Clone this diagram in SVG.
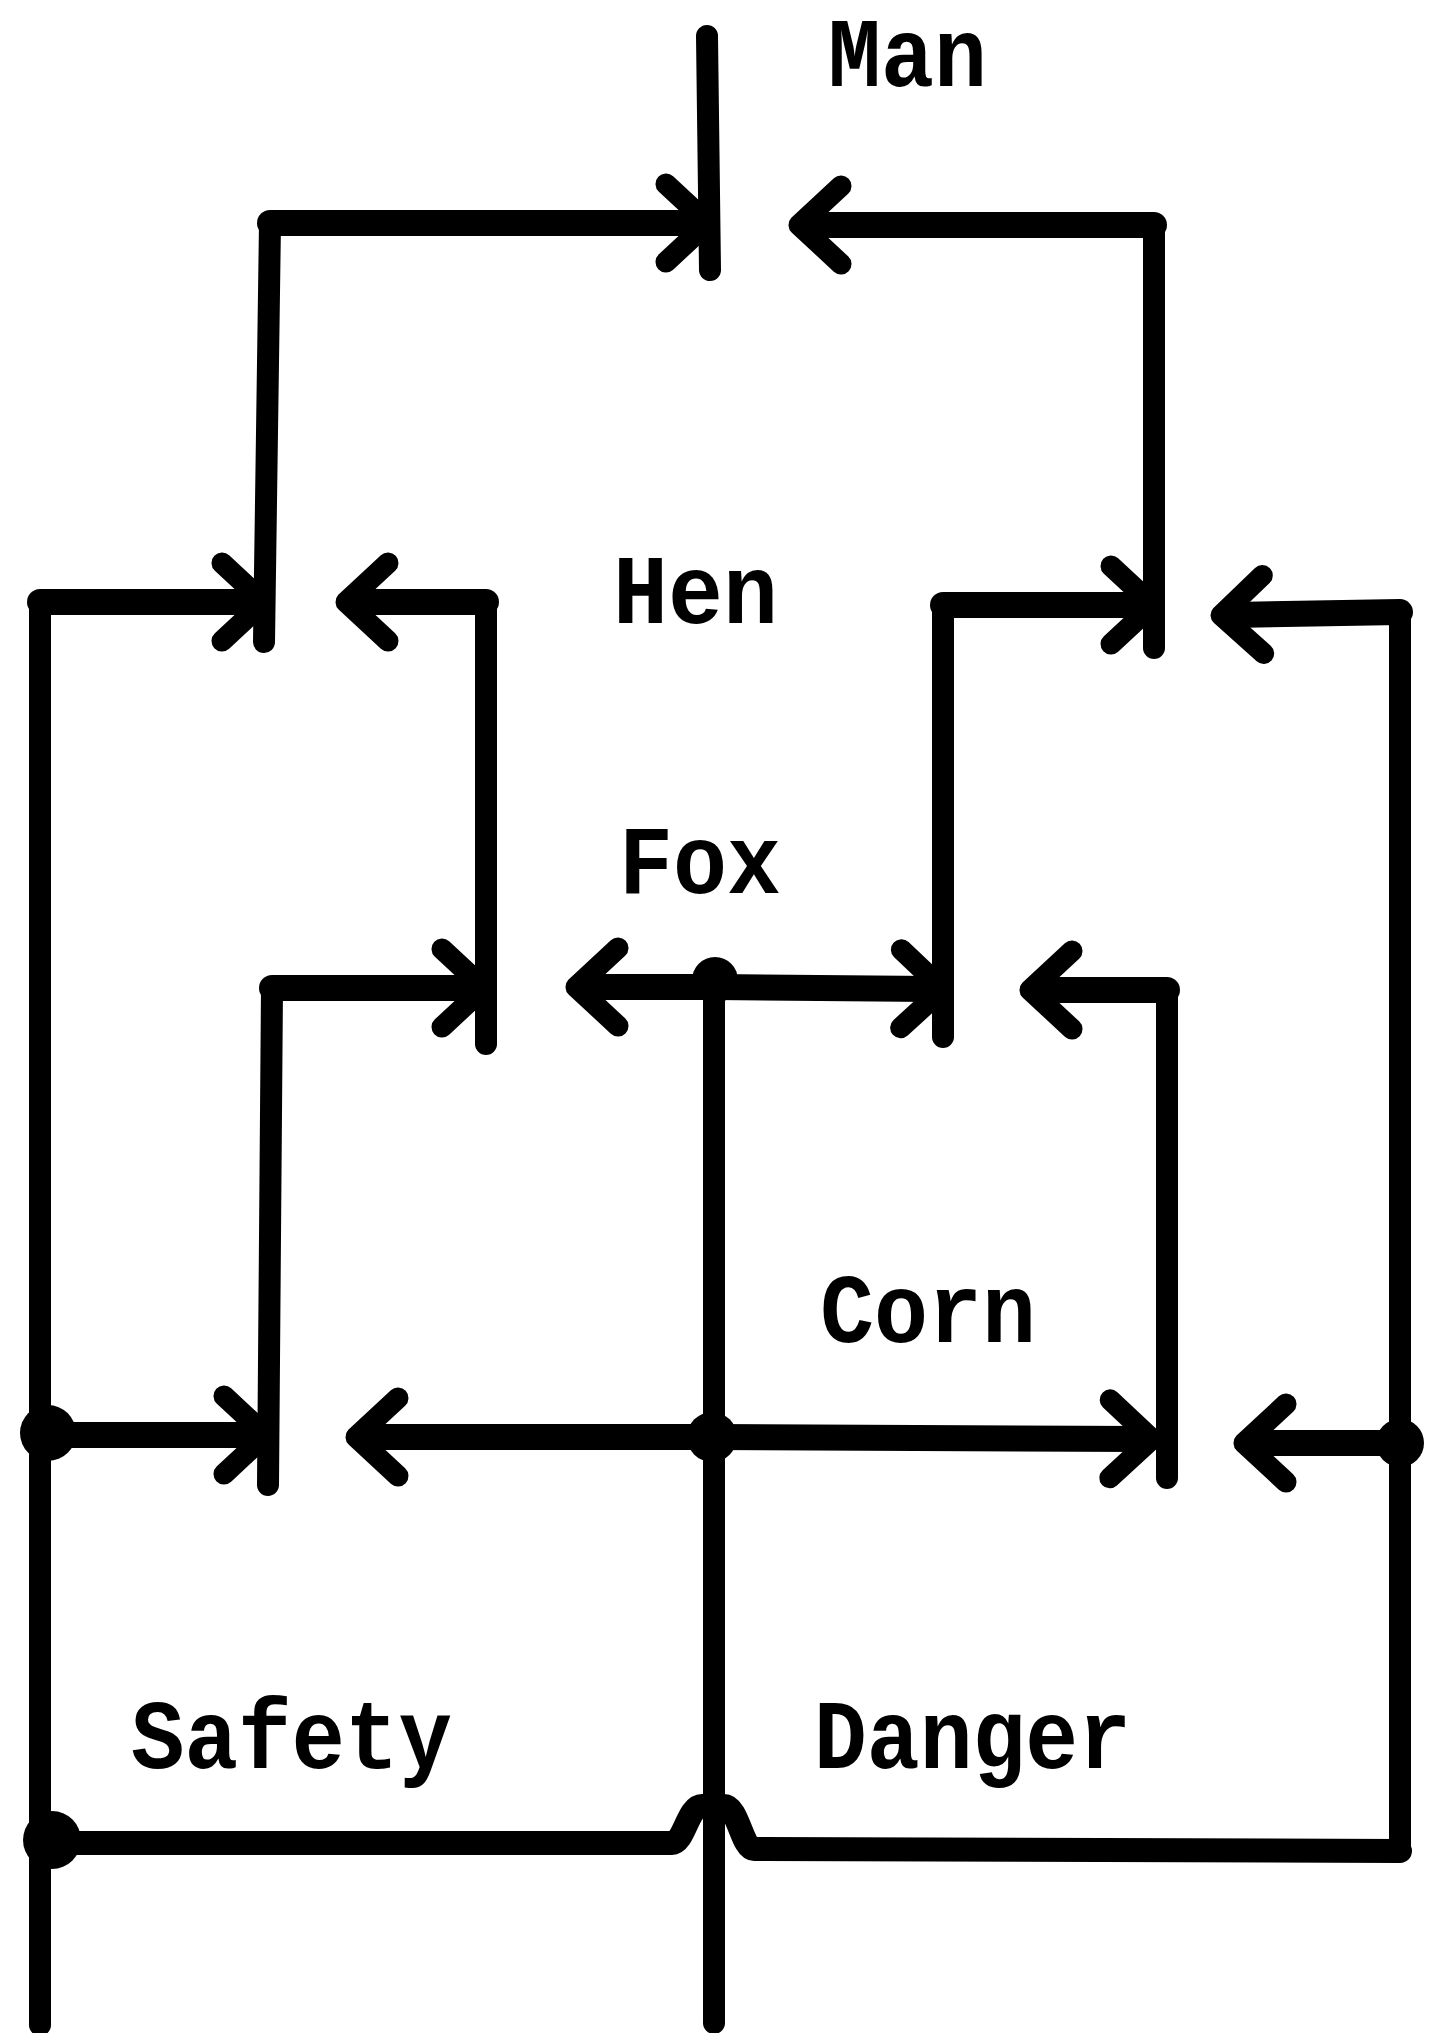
<svg xmlns="http://www.w3.org/2000/svg" width="1429" height="2033" viewBox="0 0 1429 2033">
<style>
.h{fill:none;stroke:#000;stroke-width:26;stroke-linecap:round;stroke-linejoin:round}
.v{fill:none;stroke:#000;stroke-width:22;stroke-linecap:round;stroke-linejoin:round}
.arr{marker-end:url(#ah)}
.dot{fill:#000}
.lbl{font-family:"Liberation Mono","DejaVu Sans Mono",monospace;font-weight:bold;font-size:99px;fill:#000}
</style>
<defs>
<marker id="ah" markerUnits="userSpaceOnUse" viewBox="-60 -50 80 100" markerWidth="80" markerHeight="100" refX="-12" refY="0" orient="auto" overflow="visible">
<path d="M -42 -39 L 0 0 L -42 39" fill="none" stroke="#000" stroke-width="21" stroke-linecap="round" stroke-linejoin="round"/>
</marker>
</defs>
<rect width="1429" height="2033" fill="#fff"/>
<g id="connectors">
<path class="v" d="M 707 36 L 710 270"/>
<path class="v" d="M 264 642 L 270 223"/>
<path class="h arr" d="M 270 223 L 696 223"/>
<path class="v" d="M 1154 648 L 1154 225"/>
<path class="h arr" d="M 1154 225 L 811 225"/>
<path class="v" d="M 40 2025 L 40 602"/>
<path class="h arr" d="M 40 602 L 252 602"/>
<path class="v" d="M 486 1044 L 486 602"/>
<path class="h arr" d="M 486 602 L 358 602"/>
<path class="v" d="M 943 1037 L 943 605"/>
<path class="h arr" d="M 943 605 L 1141 605"/>
<path class="v" d="M 1400 1850 L 1400 612"/>
<path class="h arr" d="M 1400 612 L 1233 615"/>
<path class="v" d="M 268 1485 L 272 988"/>
<path class="h arr" d="M 272 988 L 472 988"/>
<path class="v" d="M 1167 1478 L 1167 990"/>
<path class="h arr" d="M 1167 990 L 1042 990"/>
<path class="h arr" d="M 715 987 L 588 987"/>
<path class="h arr" d="M 715 987 L 931 989"/>
<path class="v" d="M 714 985 L 714 2023"/>
<circle class="dot" cx="715" cy="980" r="23"/>
<path class="h arr" d="M 48 1435 L 254 1435"/>
<path class="h arr" d="M 712 1437 L 368 1437"/>
<path class="h arr" d="M 712 1437 L 1140 1439"/>
<path class="h arr" d="M 1400 1443 L 1256 1443"/>
<path class="h" style="stroke-width:24" d="M 52 1843 L 672 1843 C 684 1843 688 1806 702 1806 L 724 1806 C 738 1806 742 1849 754 1849 L 1400 1851"/>
<circle class="dot" cx="48" cy="1433" r="28"/>
<circle class="dot" cx="712" cy="1437" r="25"/>
<circle class="dot" cx="1400" cy="1443" r="24"/>
<circle class="dot" cx="52" cy="1840" r="29"/>
</g>
<g id="man"><text class="lbl" x="828" y="86" textLength="159" lengthAdjust="spacingAndGlyphs">Man</text></g>
<g id="hen"><text class="lbl" x="613" y="623" textLength="165" lengthAdjust="spacingAndGlyphs">Hen</text></g>
<g id="fox"><text class="lbl" x="619" y="893" textLength="162" lengthAdjust="spacingAndGlyphs">Fox</text></g>
<g id="corn"><text class="lbl" x="820" y="1342" textLength="216" lengthAdjust="spacingAndGlyphs">Corn</text></g>
<g id="safety"><text class="lbl" x="131" y="1768" textLength="321" lengthAdjust="spacingAndGlyphs">Safety</text></g>
<g id="danger"><text class="lbl" x="814" y="1768" textLength="317" lengthAdjust="spacingAndGlyphs">Danger</text></g>
</svg>
